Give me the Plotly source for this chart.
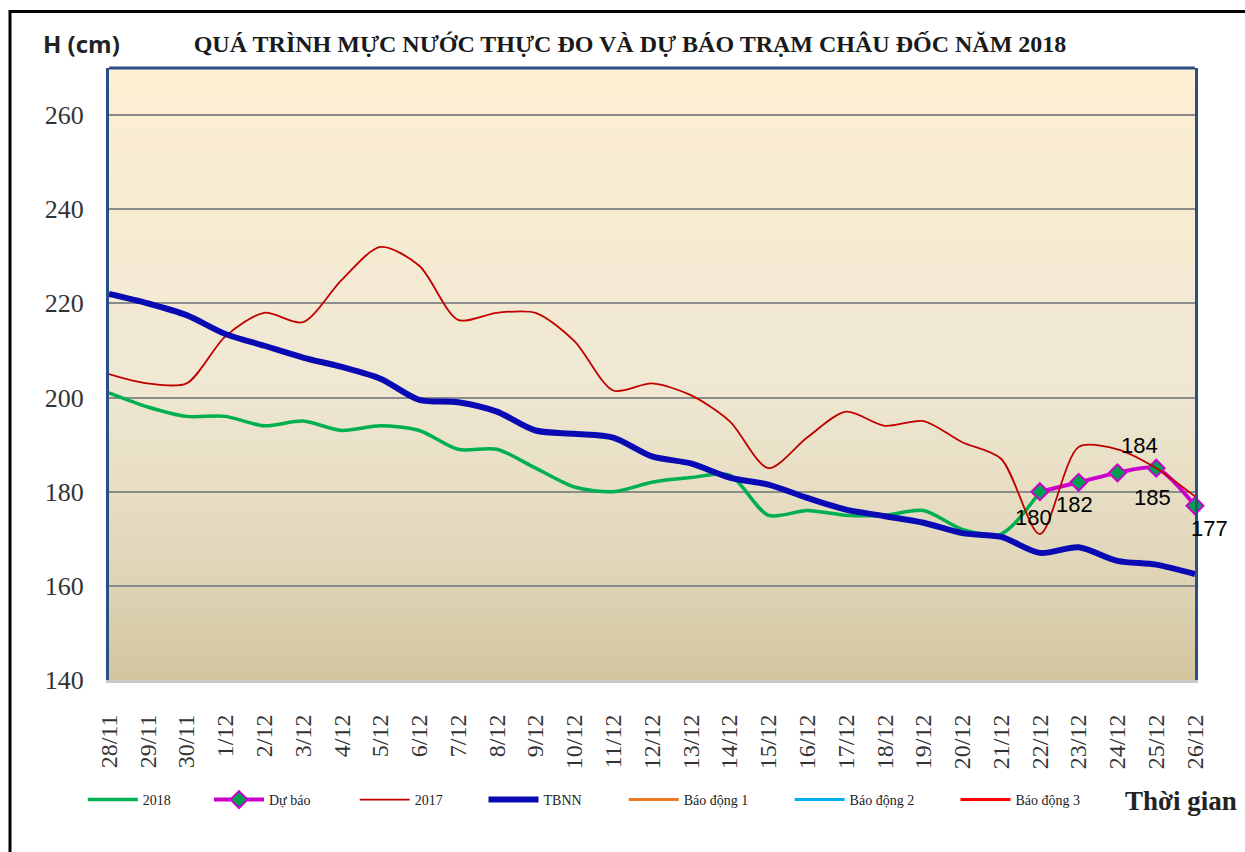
import plotly.graph_objects as go

# ---------------- data ----------------
dates = ["28/11", "29/11", "30/11", "1/12", "2/12", "3/12", "4/12", "5/12", "6/12", "7/12",
         "8/12", "9/12", "10/12", "11/12", "12/12", "13/12", "14/12", "15/12", "16/12", "17/12",
         "18/12", "19/12", "20/12", "21/12", "22/12", "23/12", "24/12", "25/12", "26/12"]

dates_2018 = dates[:25]
h_2018 = [201, 198, 196, 196, 194, 195, 193, 194, 193, 189, 189, 185, 181, 180, 182, 183,
          183.5, 175, 176, 175, 175, 176, 172, 171, 180]

dates_forecast = ["22/12", "23/12", "24/12", "25/12", "26/12"]
h_forecast = [180, 182, 184, 185, 177]

h_2017 = [205, 203, 203, 213, 218, 216, 225, 232, 228, 216.5, 218, 218, 212, 201.5, 203,
          200.5, 195, 185, 191.5, 197, 194, 195, 190.5, 187, 171, 189.5, 189, 185, 179]

h_tbnn = [222, 220, 217.5, 213.5, 211, 208.5, 206.5, 204, 199.5, 199, 197, 193, 192.3, 191.5,
          187.5, 186, 183, 181.5, 178.7, 176.2, 174.8, 173.4, 171.2, 170.4, 167, 168.2, 165.3,
          164.5, 162.5]

alarm_dates = ["28/11", "26/12"]
bd1 = [350, 350]
bd2 = [400, 400]
bd3 = [450, 450]

y_ticks = [140, 160, 180, 200, 220, 240, 260]

# ---------------- layout geometry (page pixels) ----------------
W, H = 1245, 852
PL, PR, PT, PB = 109, 1195, 68, 680          # plot area
pw, ph = PR - PL, PB - PT


def px_x(x):
    return (x - PL) / pw


def px_y(y):
    return (PB - y) / ph


fig = go.Figure()

SERIF = "Liberation Serif"

fig.add_trace(go.Scatter(
    x=dates_2018, y=h_2018, name="2018", mode="lines",
    line=dict(color="#00B050", width=3.5, shape="spline", smoothing=0.8),
    legend="legend"))

fig.add_trace(go.Scatter(
    x=dates_forecast, y=h_forecast, name="Dự báo", mode="lines+markers",
    line=dict(color="#CC00CC", width=4, shape="spline", smoothing=0.8),
    marker=dict(symbol="diamond", size=13, color="#00A050",
                line=dict(color="#CC00CC", width=2)),
    cliponaxis=False,
    legend="legend2"))

fig.add_trace(go.Scatter(
    x=dates, y=h_2017, name="2017", mode="lines",
    line=dict(color="#C00000", width=1.8, shape="spline", smoothing=0.8),
    legend="legend3"))

fig.add_trace(go.Scatter(
    x=dates, y=h_tbnn, name="TBNN", mode="lines",
    line=dict(color="#0A0AB4", width=6, shape="spline", smoothing=0.8),
    legend="legend4"))

fig.add_trace(go.Scatter(
    x=alarm_dates, y=bd1, name="Báo động 1", mode="lines",
    line=dict(color="#F07820", width=3), legend="legend5"))
fig.add_trace(go.Scatter(
    x=alarm_dates, y=bd2, name="Báo động 2", mode="lines",
    line=dict(color="#00B0F0", width=3), legend="legend6"))
fig.add_trace(go.Scatter(
    x=alarm_dates, y=bd3, name="Báo động 3", mode="lines",
    line=dict(color="#FF0000", width=3), legend="legend7"))

# ---------------- background gradient ----------------
stops = [(0.0, (211, 197, 158)), (0.2, (225, 215, 186)), (0.5, (240, 232, 211)),
         (1.0, (253, 239, 210))]


def grad(t):
    for (t0, c0), (t1, c1) in zip(stops[:-1], stops[1:]):
        if t0 <= t <= t1:
            f = (t - t0) / (t1 - t0)
            return "rgb(%d,%d,%d)" % tuple(round(a + (b - a) * f) for a, b in zip(c0, c1))
    return "rgb(%d,%d,%d)" % stops[-1][1]


shapes = []
N = 80
for i in range(N):
    shapes.append(dict(type="rect", xref="x domain", yref="y domain",
                       x0=0, x1=1, y0=i / N, y1=(i + 1) / N + 0.002,
                       fillcolor=grad((i + 0.5) / N), line=dict(width=0), layer="below"))

# top border of plot area (blue)
shapes.append(dict(type="line", xref="x domain", yref="y domain", x0=0, x1=1, y0=1, y1=1,
                   line=dict(color="#2A4E86", width=3), layer="above"))
# outer black frame
shapes.append(dict(type="rect", xref="paper", yref="paper",
                   x0=px_x(10), x1=px_x(1300), y0=px_y(900), y1=px_y(11.5),
                   line=dict(color="#000000", width=3), fillcolor="rgba(0,0,0,0)",
                   layer="above"))

# ---------------- legends ----------------
leg_starts = [88.8, 215, 360.7, 489.5, 629.7, 795.6, 961.5]
leg_common = dict(orientation="h", yanchor="middle", xanchor="left",
                  font=dict(family=SERIF, size=14, color="#222222"),
                  bgcolor="rgba(0,0,0,0)", borderwidth=0, itemwidth=50,
                  itemclick=False, itemdoubleclick=False)
legends = {}
for i, xs in enumerate(leg_starts):
    key = "legend" if i == 0 else "legend%d" % (i + 1)
    legends[key] = dict(leg_common, x=px_x(xs - 6), y=px_y(800))

# ---------------- data labels for the forecast ----------------
label_shift = [(-6, -26), (-4, -22), (22, 27), (-4, -29), (14, -23)]
annotations = []
for d, v, (dx, dy) in zip(dates_forecast, h_forecast, label_shift):
    annotations.append(dict(x=d, y=v, xref="x", yref="y", text=str(v), showarrow=False,
                            xanchor="center", yanchor="middle", xshift=dx, yshift=dy,
                            font=dict(family="Liberation Sans", size=22, color="#000000")))

annotations += [
    dict(text="<b>H (cm)</b>", xref="paper", yref="paper", x=px_x(81), y=px_y(44),
         xanchor="center", yanchor="middle", showarrow=False,
         font=dict(family="Open Sans", size=24, color="#222222")),
    dict(text="<b>Thời gian</b>", xref="paper", yref="paper", x=px_x(1123), y=px_y(801),
         xanchor="left", yanchor="middle", showarrow=False,
         font=dict(family=SERIF, size=27, color="#222222")),
]

fig.update_layout(
    width=W, height=H,
    margin=dict(l=PL, r=W - PR, t=PT, b=H - PB, pad=0),
    paper_bgcolor="#FFFFFF",
    plot_bgcolor="rgba(0,0,0,0)",
    showlegend=True,
    title=dict(text="<b>QUÁ TRÌNH MỰC NƯỚC THỰC ĐO VÀ DỰ BÁO TRẠM CHÂU ĐỐC NĂM 2018</b>",
               font=dict(family=SERIF, size=24, color="#1A1A1A"),
               x=630 / W, xanchor="center", y=1 - 44 / H, yanchor="middle"),
    xaxis=dict(type="category", range=[0, 28], showgrid=False, zeroline=False,
               tickangle=-90, ticks="", ticklabelstandoff=22,
               tickfont=dict(family=SERIF, size=24, color="#333333"),
               showline=True, linecolor="#C8C8C8", linewidth=3, mirror=False,
               fixedrange=True),
    yaxis=dict(range=[140, 270], tickvals=y_ticks, showgrid=True, gridcolor="#8C8C8C",
               gridwidth=2, zeroline=False, ticks="", ticklabelstandoff=17,
               tickfont=dict(family=SERIF, size=26, color="#333333"),
               showline=True, linecolor="#2A4E86", linewidth=3, mirror=True,
               fixedrange=True),
    shapes=shapes,
    annotations=annotations,
    **legends,
)

fig.write_html("out.html",
               config={"displayModeBar": False},
               post_script="document.body.style.margin='0';"
                           "document.body.style.overflow='hidden';")
